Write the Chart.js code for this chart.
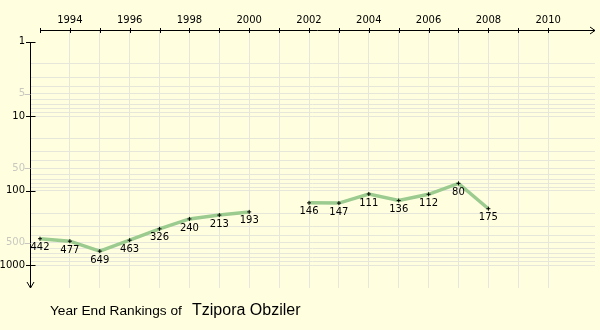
<!DOCTYPE html>
<html>
<head>
<meta charset="utf-8">
<script src="https://cdn.jsdelivr.net/npm/chart.js@4.4.0/dist/chart.umd.min.js"></script>
<style>
  html, body { margin: 0; padding: 0; background: #ffffe0; }
</style>
</head>
<body>
<canvas id="rankChart" width="600" height="330"></canvas>
<script>
// year-end ranking per season (null = no ranking that year)
const years = [1993, 1994, 1995, 1996, 1997, 1998, 1999, 2000, 2001, 2002, 2003, 2004, 2005, 2006, 2007, 2008];
const ranks = [442, 477, 649, 463, 326, 240, 213, 193, null, 146, 147, 111, 136, 112, 80, 175];

const yearTicks = [1993, 1994, 1995, 1996, 1997, 1998, 1999, 2000, 2001, 2002, 2003, 2004, 2005, 2006, 2007, 2008, 2009, 2010];
const yearLabels = [1994, 1996, 1998, 2000, 2002, 2004, 2006, 2008, 2010];
const rankTicks = [1, 2, 3, 4, 5, 6, 7, 8, 9, 10, 20, 30, 40, 50, 60, 70, 80, 90, 100, 200, 300, 400, 500, 600, 700, 800, 900, 1000];
const rankLabels = [1, 5, 10, 50, 100, 500, 1000];
const playerName = "Tzipora Obziler";

const BG = '#ffffe0';
const GRID = '#e6e6da';
const FAINT = '#c8c8c0';
const CLEAR = 'rgba(0,0,0,0)';
const isDecade = v => Math.abs(Math.log10(v) % 1) < 1e-9;

const points = years.map((yr, i) => ({ x: yr, y: ranks[i] }));

const decorations = {
  id: 'decorations',
  beforeDraw(chart) {
    const ctx = chart.ctx;
    ctx.save();
    ctx.fillStyle = BG;
    ctx.fillRect(0, 0, chart.width, chart.height);
    ctx.restore();
  },
  afterDatasetsDraw(chart) {
    // value labels under each point
    const ctx = chart.ctx;
    const meta = chart.getDatasetMeta(0);
    ctx.save();
    ctx.font = '10px "DejaVu Sans"';
    ctx.fillStyle = '#000';
    ctx.textAlign = 'center';
    ctx.textBaseline = 'middle';
    meta.data.forEach((pt, i) => {
      if (ranks[i] == null) return;
      ctx.fillText(String(ranks[i]), pt.x, pt.y + 9);
    });
    ctx.restore();
  },
  afterDraw(chart) {
    const { ctx, chartArea: a, scales: { x, y } } = chart;
    ctx.save();
    ctx.lineWidth = 1;
    ctx.strokeStyle = '#000';

    const line = (x1, y1, x2, y2) => {
      ctx.beginPath();
      ctx.moveTo(x1, y1);
      ctx.lineTo(x2, y2);
      ctx.stroke();
    };

    // top axis with arrow
    const axY = Math.round(a.top) + 0.5;
    const x0 = Math.round(x.getPixelForValue(yearTicks[0]));
    line(x0, axY, a.right, axY);
    line(a.right - 5, axY - 3.5, a.right, axY);
    line(a.right - 5, axY + 3.5, a.right, axY);
    yearTicks.forEach(yr => {
      const px = Math.round(x.getPixelForValue(yr)) + 0.5;
      line(px, axY - 2.5, px, axY + 2.5);
    });

    // left axis with arrow pointing down
    const axX = Math.round(a.left) + 0.5;
    const y0 = Math.round(y.getPixelForValue(rankTicks[0]));
    line(axX, y0, axX, a.bottom);
    line(axX - 3.5, a.bottom - 6, axX, a.bottom);
    line(axX + 3.5, a.bottom - 6, axX, a.bottom);
    rankLabels.forEach(v => {
      const py = Math.round(y.getPixelForValue(v)) + 0.5;
      if (isDecade(v)) {
        ctx.strokeStyle = '#000';
        line(axX - 4.5, py, axX + 5, py);
      } else {
        ctx.strokeStyle = FAINT;
        line(axX - 6, py, axX, py);
      }
    });

    // caption
    ctx.fillStyle = '#000';
    ctx.textBaseline = 'alphabetic';
    ctx.textAlign = 'left';
    ctx.font = '13.7px "Liberation Sans", Arial, sans-serif';
    ctx.fillText('Year End Rankings of', 50, 315);
    ctx.font = '16px "Liberation Sans", Arial, sans-serif';
    ctx.fillText(playerName, 192, 315);
    ctx.restore();
  }
};

new Chart(document.getElementById('rankChart'), {
  type: 'line',
  data: {
    datasets: [{
      data: points,
      borderColor: '#9ccb8f',
      borderWidth: 3.5,
      spanGaps: false,
      tension: 0,
      pointStyle: 'cross',
      pointRadius: 2,
      pointBorderWidth: 1,
      pointBorderColor: '#000',
      pointBackgroundColor: '#000'
    }]
  },
  options: {
    responsive: false,
    animation: false,
    layout: { padding: { top: 0, left: 0, right: 3, bottom: 42 } },
    plugins: { legend: { display: false }, tooltip: { enabled: false } },
    scales: {
      x: {
        type: 'linear',
        position: 'top',
        min: 1993 - 1 / 3,
        max: 1993 - 1 / 3 + 18.9,
        afterBuildTicks: s => { s.ticks = yearTicks.map(v => ({ value: v })); },
        afterFit: s => { s.height = 30; },
        border: { display: false },
        grid: {
          drawTicks: false,
          color: c => (c.tick && c.tick.value === yearTicks[0]) ? CLEAR : GRID
        },
        ticks: {
          autoSkip: false,
          maxRotation: 0,
          padding: 4,
          color: '#000',
          font: { family: 'DejaVu Sans', size: 10 },
          callback: v => yearLabels.includes(v) ? String(v) : ''
        }
      },
      y: {
        type: 'logarithmic',
        reverse: true,
        min: Math.pow(10, -10 / 75),
        max: Math.pow(10, -10 / 75 + 258 / 75),
        afterBuildTicks: s => { s.ticks = rankTicks.map(v => ({ value: v })); },
        afterFit: s => { s.width = 30; },
        border: { display: false },
        grid: {
          drawTicks: false,
          color: c => (c.tick && c.tick.value === 1) ? CLEAR : GRID
        },
        ticks: {
          autoSkip: false,
          padding: 5,
          font: { family: 'DejaVu Sans', size: 10 },
          color: c => isDecade(c.tick.value) ? '#000' : FAINT,
          callback: v => rankLabels.includes(v) ? String(v) : ''
        }
      }
    }
  },
  plugins: [decorations]
});
</script>
</body>
</html>
